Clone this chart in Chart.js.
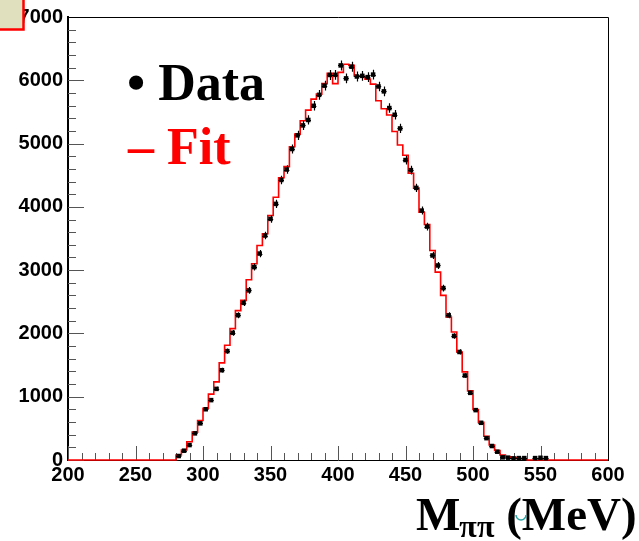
<!DOCTYPE html>
<html>
<head>
<meta charset="utf-8">
<title>M pi pi</title>
<script src="https://cdn.jsdelivr.net/npm/chart.js@4.4.1/dist/chart.umd.min.js"></script>
<style>
  html, body { margin: 0; padding: 0; background: #ffffff; }
  canvas { display: block; }
</style>
</head>
<body>
<canvas id="mpipi" width="639" height="541"></canvas>
<script>
// 4 MeV bins over 200-600 MeV
const binWidth = 4;

// fit histogram, one value per bin starting at fitStart (zero elsewhere)
const fitStart = 280;
const fitCounts = [
  79, 158, 289, 440, 625, 815, 1041, 1235, 1534, 1813,
  2076, 2360, 2522, 2849, 3101, 3390, 3574, 3863, 4151, 4460,
  4635, 4950, 5150, 5360, 5529, 5702, 5781, 5948, 6112, 5948,
  6125, 6254, 6235, 6070, 6060, 6018, 5940, 5676, 5550, 5452,
  5190, 4977, 4815, 4530, 4296, 3915, 3721, 3311, 2969, 2601,
  2259, 2023, 1707, 1392, 1093, 799, 595, 375, 236, 150,
  79, 50, 37, 26, 16
];

// measured events per bin, first bin centre at dataStart
const dataStart = 282;
const dataCounts = [
  63, 147, 236, 421, 579, 802, 946, 1124, 1419, 1720,
  2010, 2288, 2483, 2680, 3048, 3262, 3547, 3810, 4047, 4425,
  4590, 4914, 5130, 5287, 5373, 5597, 5770, 5915, 6084, 6086,
  6235, 6030, 6215, 6060, 6070, 6050, 6090, 5902, 5825, 5561,
  5455, 5239, 4740, 4580, 4300, 3941, 3689, 3232, 3074, 2716,
  2286, 1960, 1707, 1335, 1061, 788, 588, 345, 221, 131,
  42, 37, 26, 30, 30, null, 30, 35, 30
];

const xTickLabels = [200, 250, 300, 350, 400, 450, 500, 550, 600];
const yTickLabels = [0, 1000, 2000, 3000, 4000, 5000, 6000, 7000];

const xMin = 200, xMax = 600;

const fitPoints = [{ x: xMin, y: 0 }];
fitCounts.forEach((c, i) => fitPoints.push({ x: fitStart + i * binWidth, y: c }));
fitPoints.push({ x: fitStart + fitCounts.length * binWidth, y: 0 });
fitPoints.push({ x: xMax, y: 0 });

const dataPoints = dataCounts.map((c, i) => ({ x: dataStart + i * binWidth, y: c }));

// inward ticks, frame, error bars, legend and axis title
const rootStyle = {
  id: 'rootStyle',
  beforeDatasetsDraw(chart) {
    const { ctx, chartArea: a, scales: { x, y } } = chart;
    ctx.save();
    ctx.strokeStyle = '#555';
    ctx.lineWidth = 1;
    ctx.beginPath();
    x.ticks.forEach(t => {
      const px = Math.round(x.getPixelForValue(t.value)) + 0.5;
      const len = xTickLabels.includes(t.value) ? 14 : 7;
      ctx.moveTo(px, a.bottom);
      ctx.lineTo(px, a.bottom - len);
    });
    y.ticks.forEach(t => {
      const py = Math.round(y.getPixelForValue(t.value)) + 0.5;
      const len = yTickLabels.includes(t.value) ? 16 : 8;
      ctx.moveTo(a.left, py);
      ctx.lineTo(a.left + len, py);
    });
    ctx.stroke();
    // top and right frame
    ctx.strokeStyle = '#000';
    ctx.beginPath();
    ctx.moveTo(a.left, a.top + 0.5);
    ctx.lineTo(a.right + 0.5, a.top + 0.5);
    ctx.lineTo(a.right + 0.5, a.bottom);
    ctx.stroke();
    ctx.restore();
  },
  beforeDatasetDraw(chart, args) {
    if (args.index !== 0) return;
    const { ctx, scales: { x, y } } = chart;
    ctx.save();
    ctx.strokeStyle = '#000';
    ctx.lineWidth = 1.2;
    ctx.beginPath();
    dataPoints.forEach(p => {
      if (p.y === null) return;
      const err = Math.sqrt(p.y);
      const px = Math.round(x.getPixelForValue(p.x)) + 0.5;
      const py = Math.round(y.getPixelForValue(p.y)) + 0.5;
      ctx.moveTo(px, y.getPixelForValue(p.y + err));
      ctx.lineTo(px, y.getPixelForValue(Math.max(p.y - err, 0)));
      ctx.moveTo(x.getPixelForValue(p.x - binWidth / 2), py);
      ctx.lineTo(x.getPixelForValue(p.x + binWidth / 2), py);
    });
    ctx.stroke();
    ctx.restore();
  },
  afterDraw(chart) {
    const { ctx } = chart;
    ctx.save();
    ctx.textBaseline = 'alphabetic';
    ctx.textAlign = 'left';

    // legend
    ctx.font = 'bold 52px "Liberation Serif"';
    ctx.fillStyle = '#000';
    ctx.fillText('\u2022 Data', 127, 100);
    ctx.fillStyle = '#ff0000';
    ctx.fillText('\u2013 Fit', 128, 164);

    // axis title with subscript
    ctx.fillStyle = '#000';
    let tx = 416;
    ctx.font = 'bold 47px "Liberation Serif"';
    ctx.fillText('M', tx, 530);
    tx += ctx.measureText('M').width;
    ctx.font = 'bold 32px "Liberation Serif"';
    ctx.fillText('\u03c0\u03c0', tx - 1, 537);
    tx += ctx.measureText('\u03c0\u03c0').width - 1;
    ctx.font = 'bold 47px "Liberation Serif"';
    ctx.fillText(' (MeV)', tx, 530);

    // small cyan mark by the bracket
    ctx.strokeStyle = '#2aa5a5';
    ctx.lineWidth = 1.5;
    ctx.beginPath();
    ctx.arc(521, 515, 5, 0, Math.PI);
    ctx.stroke();

    // corner box
    ctx.fillStyle = '#e0dfbe';
    ctx.fillRect(0, 0, 24, 29);
    ctx.strokeStyle = '#ff0000';
    ctx.lineWidth = 2.5;
    ctx.beginPath();
    ctx.moveTo(23.5, 0);
    ctx.lineTo(23.5, 29.5);
    ctx.lineTo(0, 29.5);
    ctx.stroke();
    ctx.restore();
  }
};

const tickFont = { family: '"Liberation Sans", Arial, sans-serif', size: 20, weight: 'bold' };

new Chart(document.getElementById('mpipi'), {
  type: 'scatter',
  data: {
    datasets: [
      {
        label: 'Data',
        data: dataPoints,
        pointStyle: 'rect',
        pointRadius: 3.2,
        pointBackgroundColor: '#000',
        pointBorderColor: '#000',
        pointBorderWidth: 0,
        showLine: false,
        clip: 4
      },
      {
        label: 'Fit',
        type: 'line',
        data: fitPoints,
        stepped: 'before',
        borderColor: '#ff0000',
        borderWidth: 1.6,
        pointRadius: 0,
        fill: false,
        clip: 4
      }
    ]
  },
  options: {
    responsive: false,
    animation: false,
    events: [],
    layout: { padding: { top: 16, right: 31, left: 0, bottom: 0 } },
    plugins: {
      legend: { display: false },
      tooltip: { enabled: false }
    },
    scales: {
      x: {
        type: 'linear',
        min: xMin,
        max: xMax,
        afterFit(scale) { scale.height = 81; },
        grid: { display: false, drawTicks: false },
        border: { display: true, color: '#000', width: 1 },
        ticks: {
          stepSize: 10,
          autoSkip: false,
          maxRotation: 0,
          padding: 3,
          color: '#000',
          font: tickFont,
          callback: v => xTickLabels.includes(v) ? String(v) : ''
        }
      },
      y: {
        type: 'linear',
        min: 0,
        max: 7000,
        afterFit(scale) { scale.width = 68; },
        grid: { display: false, drawTicks: false },
        border: { display: true, color: '#000', width: 2 },
        ticks: {
          stepSize: 200,
          autoSkip: false,
          padding: 5,
          color: '#000',
          font: tickFont,
          callback: v => yTickLabels.includes(v) ? String(v) : ''
        }
      }
    }
  },
  plugins: [rootStyle]
});
</script>
</body>
</html>
